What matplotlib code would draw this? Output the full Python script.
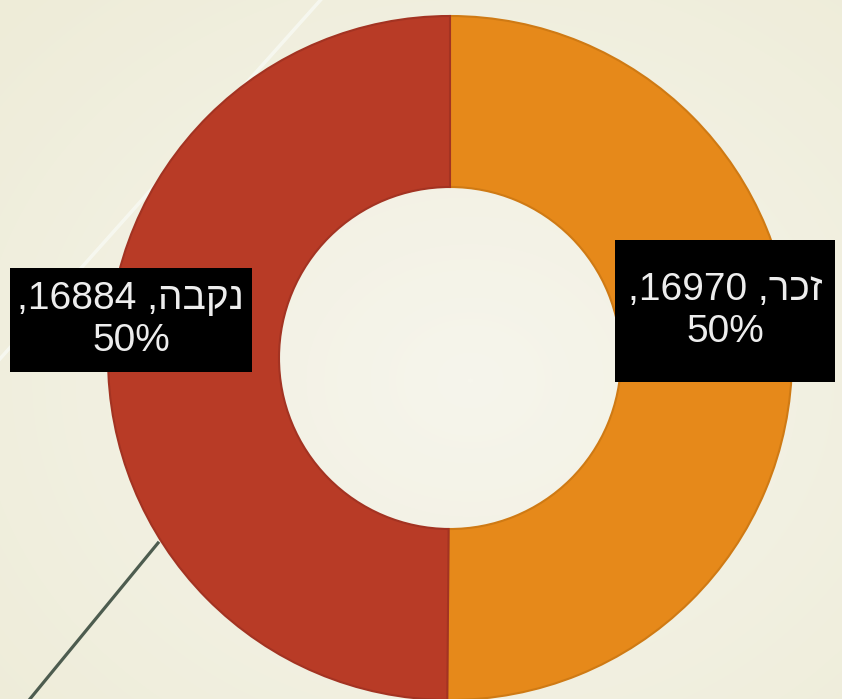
import matplotlib.pyplot as plt
import numpy as np
from matplotlib.colors import LinearSegmentedColormap
from matplotlib.patches import Rectangle

# data
genders = ["זכר", "נקבה"]
counts = [16970, 16884]
colors = ["#E6891A", "#B83B26"]
edge_colors = ["#CF7A14", "#A33322"]

# label text, already in visual (left-to-right) order since matplotlib has no bidi
label_texts = [",16970 ,רכז\n50%", ",16884 ,הבקנ\n50%"]
label_pos = [(0.804, 0.137), (-0.933, 0.111)]
box_size = [(0.643, 0.415), (0.708, 0.304)]

W, H = 842, 699
fig = plt.figure(figsize=(W / 100, H / 100), dpi=100)

# slide background, soft radial gradient
bg = fig.add_axes([0, 0, 1, 1], zorder=-2)
yy, xx = np.mgrid[0:H, 0:W]
dist = np.hypot((xx - 470) / W, (yy - 380) / H)
cmap = LinearSegmentedColormap.from_list("bg", ["#F6F5EC", "#EEECD8"])
bg.imshow(dist, cmap=cmap, aspect="auto", extent=[0, W, H, 0])
bg.set_xlim(0, W)
bg.set_ylim(H, 0)
bg.axis("off")

# decorative slide lines
bg.plot([325, -10], [-5, 370], color="#F8FAF4", lw=2.5, alpha=0.8)
bg.plot([158, 25], [543, 705], color="#4D5C4F", lw=2.3)

ax = fig.add_axes([0, 0, 1, 1])
ax.patch.set_alpha(0)

wedges, _ = ax.pie(
    counts,
    colors=colors,
    startangle=90,
    counterclock=False,
    radius=1.0,
    wedgeprops=dict(width=0.5, linewidth=1.5),
)
for w, ec in zip(wedges, edge_colors):
    w.set_edgecolor(ec)

# place the ring: centre at (450, 358) px from top-left, outer radius 342 px
scale = 342.0
cx, cy = 450, 358
ax.set_aspect("auto")
ax.set_xlim(-cx / scale, (W - cx) / scale)
ax.set_ylim(-(H - cy) / scale, cy / scale)
ax.axis("off")

for text, (x, y), (bw, bh) in zip(label_texts, label_pos, box_size):
    ax.add_patch(Rectangle((x - bw / 2, y - bh / 2), bw, bh,
                           facecolor="black", edgecolor="none", zorder=3))
    ax.text(x, y, text, ha="center", va="center", color="#EDEDED",
            fontsize=28, family=["Liberation Sans", "DejaVu Sans"],
            linespacing=1.2, zorder=4)

fig.savefig("out.png", dpi=100)
